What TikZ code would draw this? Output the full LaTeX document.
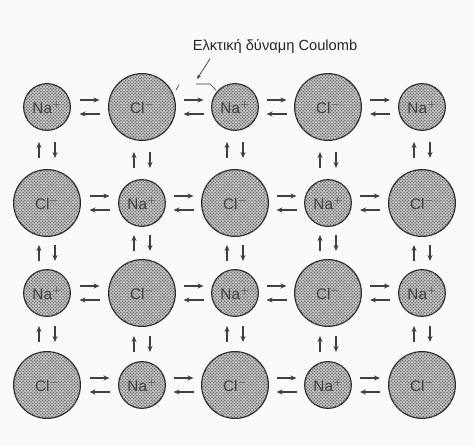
\documentclass[tikz,border=0pt]{standalone}
\usepackage{fontspec}
\setmainfont{Liberation Sans}
\usetikzlibrary{patterns.meta,calc,arrows.meta}
\tikzdeclarepattern{name=halftone,type=uncolored,
  bottom left={(-0.1pt,-0.1pt)},top right={(2.5pt,2.5pt)},tile size={(2.4pt,2.4pt)},
  code={\pgfpathcircle{\pgfpoint{0.6pt}{0.6pt}}{0.6pt}\pgfpathcircle{\pgfpoint{1.8pt}{1.8pt}}{0.6pt}\pgfusepath{fill}}}
\begin{document}
\begin{tikzpicture}[x=0.75pt,y=-0.75pt,
 ion/.style={circle,draw=black!85,line width=0.9pt,fill=gray!45,inner sep=0pt,text=black!75,
   font=\fontsize{11.5}{13}\selectfont,
   postaction={pattern=halftone,pattern color=black!60}},
 na/.style={ion,minimum size=35pt},
 cl/.style={ion,minimum size=50pt},
 arr/.style={line width=1.2pt,draw=black!75,-{Stealth[length=4.5pt,width=3.8pt]}},
 thinline/.style={line width=0.5pt,draw=black!80}]
\fill[gray!4] (0,0) rectangle (475,446);
\useasboundingbox (0,0) rectangle (475,446);
\foreach \x [count=\i from 0] in {47,142,235,328,422}{
  \foreach \y [count=\j from 0] in {107,203,293,385}{
    \pgfmathtruncatemacro\p{mod(\i+\j,2)}
    \ifnum\p=0
      \node[na] (n\i\j) at (\x,\y) {Na$^{+}$};
    \else
      \node[cl] (n\i\j) at (\x,\y) {Cl$^{-}$};
    \fi
  }
}
% horizontal arrow pairs
\foreach \i [evaluate=\i as \k using int(\i+1)] in {0,1,2,3}{
  \foreach \j in {0,1,2,3}{
    \draw[arr] ($(n\i\j.east)!0.5!(n\k\j.west)+(-10,-7)$) -- ++(20,0);
    \draw[arr] ($(n\i\j.east)!0.5!(n\k\j.west)+(10,7)$) -- ++(-20,0);
  }
}
% vertical arrow pairs
\foreach \i in {0,1,2,3,4}{
  \foreach \j [evaluate=\j as \k using int(\j+1)] in {0,1,2}{
    \draw[arr] ($(n\i\j.south)!0.5!(n\i\k.north)+(-8,8)$) -- ++(0,-16);
    \draw[arr] ($(n\i\j.south)!0.5!(n\i\k.north)+(8,-8)$) -- ++(0,16);
  }
}
% label
\node[font=\fontsize{11}{13}\selectfont,text=black!85] (lab) at (275,46) {Ελκτική δύναμη Coulomb};
\coordinate (tip) at (197,79);
\draw[thinline,-{Stealth[length=3.5pt,width=2.6pt]}] ($(lab.south west)+(22,1)$) -- (tip);
\draw[thinline] (196,84) -- (210,84) -- (216,90);
\draw[thinline] (176,90) -- (179,85);
\end{tikzpicture}
\end{document}
